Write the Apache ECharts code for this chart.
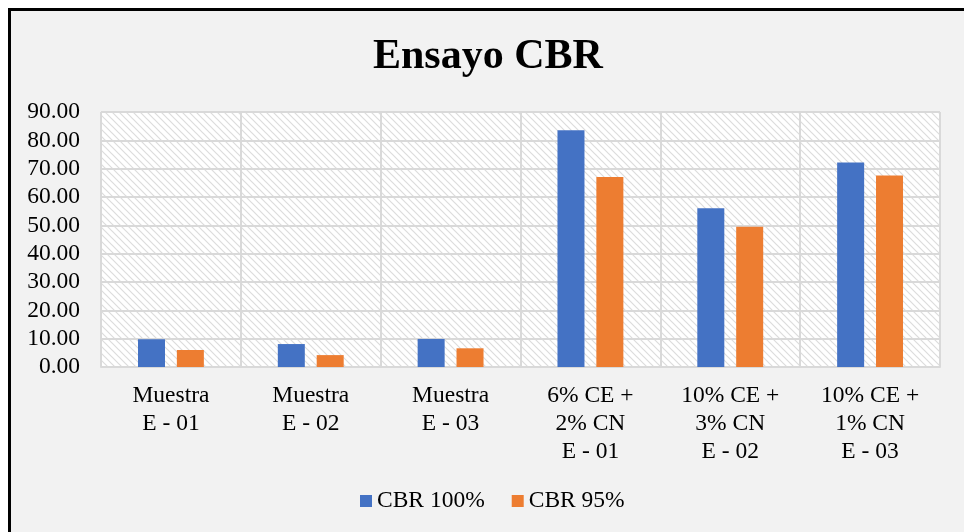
<!DOCTYPE html>
<html>
<head>
<meta charset="utf-8">
<script src="https://cdn.jsdelivr.net/npm/echarts@6/dist/echarts.min.js"></script>
<style>
html,body{margin:0;padding:0;background:#fff;width:964px;height:532px;overflow:hidden;}
#frame{position:absolute;left:8px;top:8px;width:1000px;height:600px;border:3px solid #000;background:#f2f2f2;}
#chart{position:absolute;left:0;top:0;width:964px;height:532px;}
</style>
</head>
<body>
<div id="frame"></div>
<div id="chart"></div>
<script>
const titleText = 'Ensayo CBR';
const categories = [
  'Muestra\nE - 01',
  'Muestra\nE - 02',
  'Muestra\nE - 03',
  '6% CE +\n2% CN\nE - 01',
  '10% CE +\n3% CN\nE - 02',
  '10% CE +\n1% CN\nE - 03'
];
const seriesNames = ['CBR 100%', 'CBR 95%'];
const cbr100 = [9.8, 8.1, 9.9, 83.6, 56.0, 72.2];
const cbr95 = [6.0, 4.2, 6.6, 67.1, 49.5, 67.6];
const yMin = 0, yMax = 90, yStep = 10;

// hatch pattern for plot background
const tile = document.createElement('canvas');
tile.width = 7; tile.height = 7;
const ctx = tile.getContext('2d');
ctx.fillStyle = '#ffffff';
ctx.fillRect(0, 0, 7, 7);
ctx.strokeStyle = '#dcdcdc';
ctx.lineWidth = 1.2;
ctx.beginPath();
ctx.moveTo(-1, -1); ctx.lineTo(8, 8);
ctx.moveTo(-8, -1); ctx.lineTo(1, 8);
ctx.moveTo(6, -1); ctx.lineTo(15, 8);
ctx.stroke();

const font = '"Liberation Serif", "Times New Roman", serif';
const chart = echarts.init(document.getElementById('chart'), null, {renderer: 'canvas'});
chart.setOption({
  backgroundColor: 'transparent',
  animation: false,
  title: {
    text: titleText,
    left: 373,
    top: 36,
    padding: 0,
    textStyle: {fontFamily: font, fontSize: 42, fontWeight: 'bold', color: '#000'}
  },
  legend: {
    data: seriesNames,
    left: 360,
    top: 489,
    icon: 'rect',
    itemWidth: 12,
    itemHeight: 12,
    itemGap: 27,
    padding: 0,
    textStyle: {fontFamily: font, fontSize: 23.5, color: '#000'}
  },
  grid: {
    left: 101, right: 24, top: 112, bottom: 165,
    show: true,
    backgroundColor: {image: tile, repeat: 'repeat'},
    borderColor: '#d9d9d9',
    borderWidth: 1
  },
  xAxis: {
    type: 'category',
    data: categories,
    axisTick: {show: false},
    axisLine: {lineStyle: {color: '#d9d9d9', width: 2}},
    splitLine: {show: true, interval: 0, lineStyle: {color: '#d9d9d9', width: 2}},
    axisLabel: {interval: 0, margin: 15, fontFamily: font, fontSize: 23.5, lineHeight: 28, color: '#000'}
  },
  yAxis: {
    type: 'value',
    min: yMin, max: yMax, interval: yStep,
    axisLine: {show: false},
    axisTick: {show: false},
    splitLine: {lineStyle: {color: '#d9d9d9', width: 2}},
    axisLabel: {margin: 21, fontFamily: font, fontSize: 23.5, color: '#000', formatter: v => v.toFixed(2)}
  },
  series: [
    {name: seriesNames[0], type: 'bar', data: cbr100, barWidth: 27, barGap: '44%', itemStyle: {color: '#4472C4'}},
    {name: seriesNames[1], type: 'bar', data: cbr95, barWidth: 27, barGap: '44%', itemStyle: {color: '#ED7D31'}}
  ]
});
</script>
</body>
</html>
